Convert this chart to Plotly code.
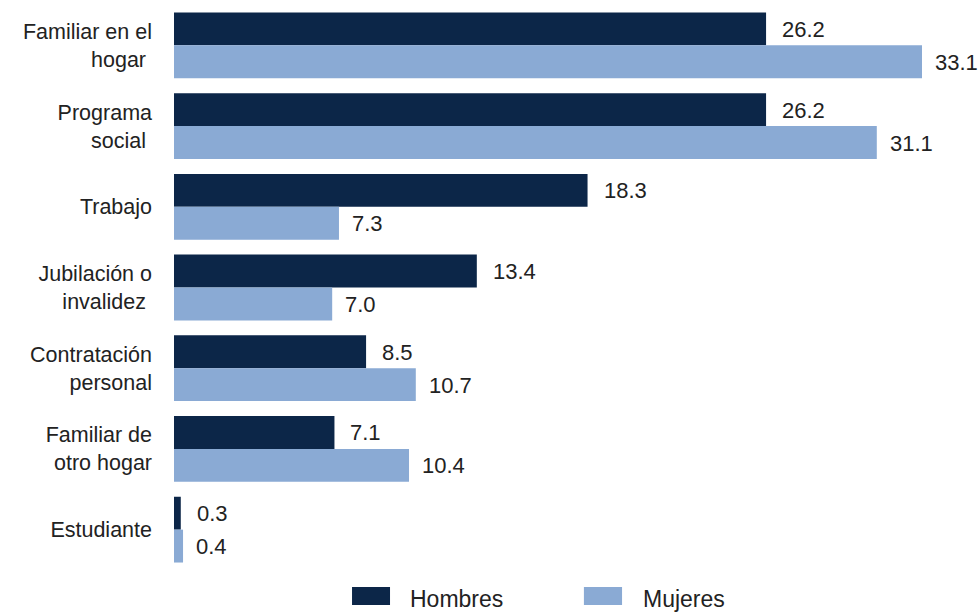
import plotly.graph_objects as go

categories = [
    "Familiar en el<br>hogar ",
    "Programa<br>social ",
    "Trabajo",
    "Jubilación o<br>invalidez ",
    "Contratación<br>personal",
    "Familiar de<br>otro hogar",
    "Estudiante",
]
hombres = [26.2, 26.2, 18.3, 13.4, 8.5, 7.1, 0.3]
mujeres = [33.1, 31.1, 7.3, 7.0, 10.7, 10.4, 0.4]
series_names = ["Hombres", "Mujeres"]

C_H = "#0c2648"
C_M = "#8aaad4"
TXT = "#222222"
FONT = "Liberation Sans, Arial, sans-serif"

fig = go.Figure()
fig.add_trace(go.Bar(y=categories, x=hombres, orientation="h", name=series_names[0],
                     marker=dict(color=C_H, line=dict(width=0)), showlegend=False))
fig.add_trace(go.Bar(y=categories, x=mujeres, orientation="h", name=series_names[1],
                     marker=dict(color=C_M, line=dict(width=0)), showlegend=False))

annotations = []
for cat, h, m in zip(categories, hombres, mujeres):
    annotations.append(dict(x=h, y=cat, xref="x", yref="y", text=f"{h:.1f}", showarrow=False,
                            xanchor="left", yanchor="middle", xshift=14, yshift=16,
                            font=dict(size=22, color=TXT, family=FONT)))
    annotations.append(dict(x=m, y=cat, xref="x", yref="y", text=f"{m:.1f}", showarrow=False,
                            xanchor="left", yanchor="middle", xshift=11, yshift=-17,
                            font=dict(size=22, color=TXT, family=FONT)))

# manual legend
shapes = []
leg = [(series_names[0], C_H, 0.238, 0.2888, 0.3128),
       (series_names[1], C_M, 0.548, 0.599, 0.6243)]
for name, col, x0, x1, xt in leg:
    shapes.append(dict(type="rect", xref="paper", yref="paper", x0=x0, x1=x1,
                       y0=-0.0619, y1=-0.0301, fillcolor=col, line=dict(width=0)))
    annotations.append(dict(x=xt, y=-0.0510, xref="paper", yref="paper", text=name,
                            showarrow=False, xanchor="left", yanchor="middle",
                            font=dict(size=23, color=TXT, family=FONT)))

fig.update_layout(
    width=979, height=613,
    margin=dict(l=174, r=57, t=5, b=43),
    paper_bgcolor="white", plot_bgcolor="white",
    barmode="group", bargap=0.185, bargroupgap=0,
    font=dict(family=FONT, size=21, color=TXT),
    annotations=annotations, shapes=shapes,
    xaxis=dict(range=[0, 33.1], visible=False, showgrid=False, zeroline=False, fixedrange=True),
    yaxis=dict(autorange="reversed", showgrid=False, zeroline=False, showline=False,
               ticks="", ticklabelstandoff=21, tickfont=dict(size=21.5, color=TXT, family=FONT)),
)

fig.write_html("out.html", config={"displayModeBar": False},
               post_script="document.body.style.margin='0';document.body.style.overflow='hidden';")
